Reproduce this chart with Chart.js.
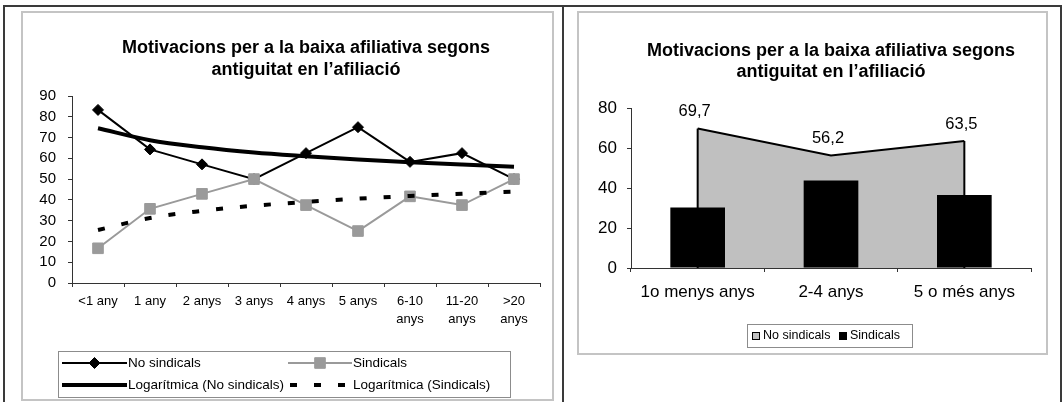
<!DOCTYPE html>
<html>
<head>
<meta charset="utf-8">
<script src="https://cdn.jsdelivr.net/npm/chart.js@4.4.1/dist/chart.umd.min.js"></script>
<style>
html,body{margin:0;padding:0;background:#fff;}
body{width:1062px;height:402px;position:relative;overflow:hidden;}
.frame{position:absolute;left:3px;top:5px;width:1059px;height:400px;border-left:2px solid #3a3a3a;border-top:2px solid #3a3a3a;box-sizing:border-box;}
.divider{position:absolute;left:562px;top:5px;width:2px;height:397px;background:#3a3a3a;}
.rightedge{position:absolute;left:1060px;top:5px;width:2px;height:397px;background:#3a3a3a;}
.box{position:absolute;border:2px solid #c4c4c4;box-sizing:border-box;}
#boxL{left:21px;top:11px;width:533px;height:390px;}
#boxR{left:577px;top:11px;width:471px;height:344px;}
canvas{position:absolute;top:0;}
#left{left:0;}
#right{left:564px;}
</style>
</head>
<body>
<div class="frame"></div><div class="divider"></div><div class="rightedge"></div>
<div class="box" id="boxL"></div><div class="box" id="boxR"></div>
<canvas id="left" width="562" height="402"></canvas>
<canvas id="right" width="496" height="402"></canvas>
<script>
// ---------- data ----------
const titleLines = ['Motivacions per a la baixa afiliativa segons', 'antiguitat en l\u2019afiliació'];

const ageCategories = ['<1 any', '1 any', '2 anys', '3 anys', '4 anys', '5 anys', ['6-10', 'anys'], ['11-20', 'anys'], ['>20', 'anys']];
const noSindicals = [83.3, 64.3, 57.1, 50, 62.5, 75, 58.3, 62.5, 50];
const sindicals = [16.7, 35.7, 42.9, 50, 37.5, 25, 41.7, 37.5, 50];
const logNoSindicals = [74.5, 68.7, 65.3, 62.8, 61.0, 59.4, 58.1, 57.0, 56.0];
const logSindicals = [25.5, 31.3, 34.7, 37.2, 39.0, 40.6, 41.9, 43.0, 44.0];
const leftYTicks = [0, 10, 20, 30, 40, 50, 60, 70, 80, 90];

const groupCategories = ['1o menys anys', '2-4 anys', '5 o més anys'];
const groupNoSindicals = [69.7, 56.2, 63.5];
const groupSindicals = [30.3, 43.8, 36.5];
const rightYTicks = [0, 20, 40, 60, 80];

const seriesNames = ['No sindicals', 'Sindicals', 'Logarítmica (No sindicals)', 'Logarítmica (Sindicals)'];

// ---------- helpers ----------
const FONT = '"Liberation Sans", Arial, Helvetica, sans-serif';
Chart.defaults.font.family = FONT;
Chart.defaults.color = '#000';

function drawMarker(ctx, style, x, y, r, color) {
  ctx.save();
  ctx.fillStyle = color; ctx.strokeStyle = color; ctx.lineWidth = 1;
  ctx.beginPath();
  if (style === 'rectRot') {
    ctx.moveTo(x, y - r); ctx.lineTo(x + r, y); ctx.lineTo(x, y + r); ctx.lineTo(x - r, y); ctx.closePath();
  } else {
    const s = r * Math.SQRT1_2;
    ctx.rect(x - s, y - s, 2 * s, 2 * s);
  }
  ctx.fill(); ctx.stroke();
  ctx.restore();
}

function makeBoxLegend(cfg) {
  return {
    id: 'boxLegend',
    afterDraw(chart) {
      const ctx = chart.ctx;
      ctx.save();
      ctx.strokeStyle = cfg.borderColor; ctx.lineWidth = 1;
      ctx.strokeRect(cfg.box.x + 0.5, cfg.box.y + 0.5, cfg.box.w, cfg.box.h);
      ctx.font = cfg.font; ctx.fillStyle = '#000'; ctx.textBaseline = 'middle'; ctx.textAlign = 'left';
      cfg.items.forEach(it => {
        const ds = chart.data.datasets[it.dataset];
        if (it.kind === 'line') {
          ctx.save();
          ctx.strokeStyle = ds.borderColor; ctx.lineWidth = ds.borderWidth;
          ctx.setLineDash(ds.borderDash || []);
          ctx.beginPath(); ctx.moveTo(it.x1, it.y); ctx.lineTo(it.x2, it.y); ctx.stroke();
          ctx.restore();
          if (ds.pointRadius > 0) drawMarker(ctx, ds.pointStyle, (it.x1 + it.x2) / 2, it.y, ds.pointRadius, ds.backgroundColor);
        } else {
          ctx.save();
          ctx.fillStyle = ds.backgroundColor;
          ctx.fillRect(it.x, it.y - 4, 8, 8);
          if (it.outline) { ctx.strokeStyle = '#000'; ctx.lineWidth = 1; ctx.strokeRect(it.x + 0.5, it.y - 3.5, 7, 7); }
          ctx.restore();
        }
        ctx.fillStyle = '#000';
        ctx.fillText(ds.label, it.textX, it.y);
      });
      ctx.restore();
    }
  };
}

// ---------- left chart ----------
new Chart(document.getElementById('left'), {
  type: 'line',
  data: {
    labels: ageCategories,
    datasets: [
      { label: seriesNames[0], data: noSindicals, borderColor: '#000', backgroundColor: '#000',
        borderWidth: 2, pointStyle: 'rectRot', pointRadius: 5.5, pointBorderWidth: 1, fill: false, order: 3 },
      { label: seriesNames[1], data: sindicals, borderColor: '#9a9a9a', backgroundColor: '#9a9a9a',
        borderWidth: 2, pointStyle: 'rect', pointRadius: 7.5, pointBorderWidth: 1, fill: false, order: 2 },
      { label: seriesNames[2], data: logNoSindicals, borderColor: '#000', backgroundColor: '#000',
        borderWidth: 4, pointRadius: 0, cubicInterpolationMode: 'monotone', fill: false, order: 1 },
      { label: seriesNames[3], data: logSindicals, borderColor: '#000', backgroundColor: '#000',
        borderWidth: 4, borderDash: [7, 17], pointRadius: 0, cubicInterpolationMode: 'monotone', fill: false, order: 0 }
    ]
  },
  options: {
    responsive: false, animation: false, events: [],
    layout: { padding: { top: 0, left: 0, right: 22, bottom: 0 } },
    plugins: {
      legend: { display: false }, tooltip: { enabled: false },
      title: { display: true, fullSize: false, text: titleLines, color: '#000',
        font: { size: 18, weight: 'bold', lineHeight: 22 / 18 }, padding: { top: 37, bottom: 15 } }
    },
    scales: {
      x: {
        offset: true,
        grid: { offset: true, drawOnChartArea: false, tickLength: 4, color: '#333' },
        border: { color: '#333', width: 1 },
        ticks: { autoSkip: false, maxRotation: 0, minRotation: 0, color: '#000', font: { size: 13, lineHeight: 1.35 }, padding: 6 },
        afterFit(s) { s.height = 119; }
      },
      y: {
        min: leftYTicks[0], max: leftYTicks[leftYTicks.length - 1],
        afterBuildTicks(s) { s.ticks = leftYTicks.map(v => ({ value: v })); },
        grid: { drawOnChartArea: false, tickLength: 4, color: '#333' },
        border: { color: '#333', width: 1 },
        ticks: { autoSkip: false, color: '#000', font: { size: 15 }, padding: 12 },
        afterFit(s) { s.width = 72; }
      }
    }
  },
  plugins: [makeBoxLegend({
    box: { x: 58, y: 351, w: 452, h: 46 },
    borderColor: '#8c8c8c',
    font: '13.5px ' + FONT,
    items: [
      { dataset: 0, kind: 'line', x1: 62, x2: 127, y: 363, textX: 128 },
      { dataset: 1, kind: 'line', x1: 288, x2: 352, y: 363, textX: 353 },
      { dataset: 2, kind: 'line', x1: 62, x2: 127, y: 385, textX: 128 },
      { dataset: 3, kind: 'line', x1: 290, x2: 352, y: 385, textX: 353 }
    ]
  })]
});

// ---------- right chart ----------
const areaEdges = {
  id: 'areaEdges',
  afterDatasetDraw(chart, args) {
    const ds = chart.data.datasets[args.index];
    if (!ds.edgeLines) return;
    const pts = args.meta.data;
    const yBase = chart.scales.y.getPixelForValue(0);
    const ctx = chart.ctx;
    ctx.save();
    ctx.strokeStyle = ds.borderColor; ctx.lineWidth = ds.borderWidth;
    [pts[0], pts[pts.length - 1]].forEach(p => {
      ctx.beginPath(); ctx.moveTo(p.x, p.y); ctx.lineTo(p.x, yBase); ctx.stroke();
    });
    ctx.restore();
  }
};
const valueLabels = {
  id: 'valueLabels',
  afterDatasetsDraw(chart) {
    const ctx = chart.ctx;
    chart.data.datasets.forEach((ds, i) => {
      if (!ds.showValues) return;
      const meta = chart.getDatasetMeta(i);
      ctx.save();
      ctx.font = '16.5px ' + FONT; ctx.fillStyle = '#000'; ctx.textAlign = 'center'; ctx.textBaseline = 'middle';
      meta.data.forEach((pt, j) => {
        ctx.fillText(ds.data[j].toFixed(1).replace('.', ','), pt.x - 3, pt.y - 17);
      });
      ctx.restore();
    });
  }
};

new Chart(document.getElementById('right'), {
  type: 'bar',
  data: {
    labels: groupCategories,
    datasets: [
      { type: 'line', label: seriesNames[0], data: groupNoSindicals, borderColor: '#000', borderWidth: 2,
        backgroundColor: '#c0c0c0', fill: 'origin', pointRadius: 0, tension: 0, order: 1,
        edgeLines: true, showValues: true },
      { type: 'bar', label: seriesNames[1], data: groupSindicals, backgroundColor: '#000', borderWidth: 0,
        barPercentage: 0.41, categoryPercentage: 1, order: 0 }
    ]
  },
  options: {
    responsive: false, animation: false, events: [],
    layout: { padding: { top: 0, left: 0, right: 29, bottom: 0 } },
    plugins: {
      legend: { display: false }, tooltip: { enabled: false },
      title: { display: true, fullSize: false, text: titleLines, color: '#000',
        font: { size: 18, weight: 'bold', lineHeight: 21 / 18 }, padding: { top: 41, bottom: 25 } }
    },
    scales: {
      x: {
        offset: true,
        grid: { offset: true, drawOnChartArea: false, tickLength: 4, color: '#333' },
        border: { color: '#333', width: 1 },
        ticks: { autoSkip: false, maxRotation: 0, minRotation: 0, color: '#000', font: { size: 17 }, padding: 10.5 },
        afterFit(s) { s.height = 134; }
      },
      y: {
        min: rightYTicks[0], max: rightYTicks[rightYTicks.length - 1],
        afterBuildTicks(s) { s.ticks = rightYTicks.map(v => ({ value: v })); },
        grid: { drawOnChartArea: false, tickLength: 4, color: '#333' },
        border: { color: '#333', width: 1 },
        ticks: { autoSkip: false, color: '#000', font: { size: 17 }, padding: 10 },
        afterFit(s) { s.width = 67; }
      }
    }
  },
  plugins: [areaEdges, valueLabels, makeBoxLegend({
    box: { x: 183, y: 324, w: 165, h: 23 },
    borderColor: '#8c8c8c',
    font: '12.5px ' + FONT,
    items: [
      { dataset: 0, kind: 'swatch', x: 188, y: 336, textX: 199, outline: true },
      { dataset: 1, kind: 'swatch', x: 275, y: 336, textX: 286 }
    ]
  })]
});
</script>
</body>
</html>
